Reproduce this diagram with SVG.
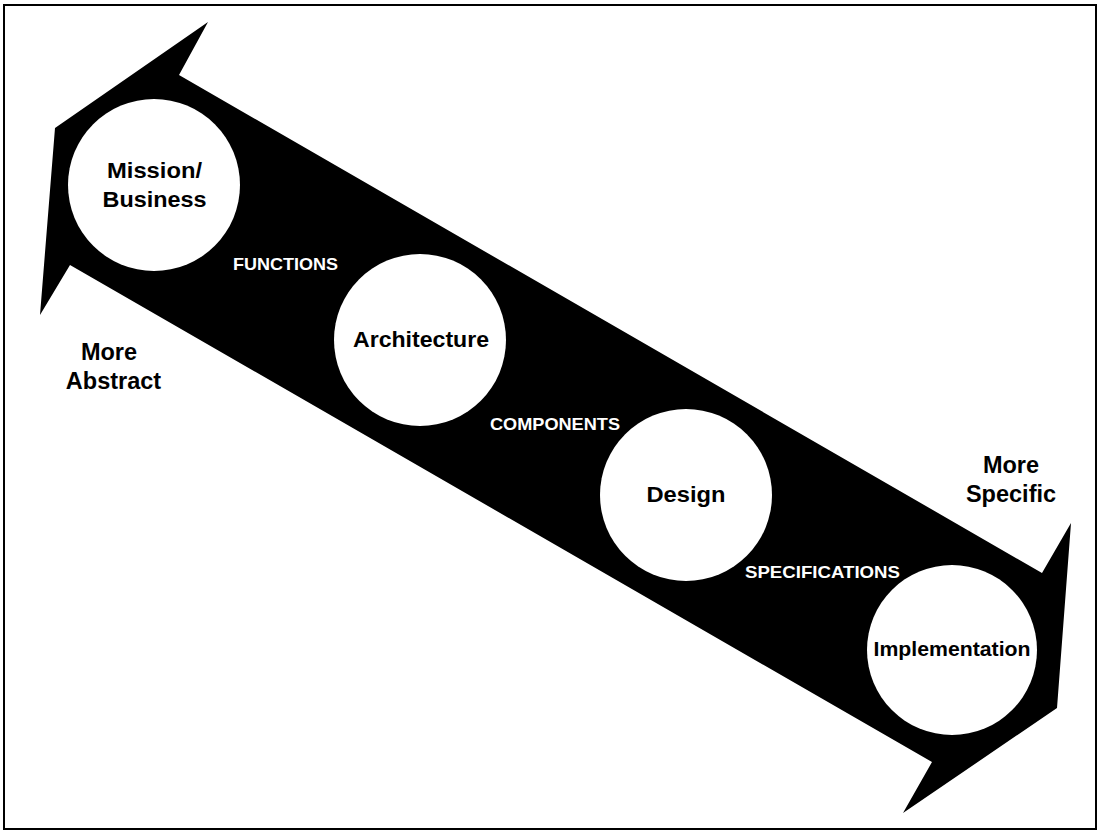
<svg xmlns="http://www.w3.org/2000/svg" width="1100" height="833" viewBox="0 0 1100 833">
<style>
.node circle{fill:#fff;stroke:none}
.t{font-family:"Liberation Sans",Arial,sans-serif;font-weight:bold;text-anchor:middle}
.nl{font-size:22.5px;fill:#000}
.cl{font-size:16.5px;fill:#fff}
.side{font-size:23.5px;fill:#000}
</style>
<rect x="4" y="5" width="1092" height="824" fill="#fff" stroke="#000" stroke-width="2"/>
<g id="connectors">
<polygon id="arrow" points="179,75 1042,573 1071,523 1057,708 903,813 932,762 70,265 40,315 55,128 208,22" fill="#000"/>
<text class="t cl" x="285.5" y="270" textLength="105" lengthAdjust="spacingAndGlyphs">FUNCTIONS</text>
<text class="t cl" x="555" y="430" textLength="130" lengthAdjust="spacingAndGlyphs">COMPONENTS</text>
<text class="t cl" x="822.5" y="578" textLength="155" lengthAdjust="spacingAndGlyphs">SPECIFICATIONS</text>
</g>
<g id="mission" class="node">
<circle cx="154" cy="185" r="86"/>
<text class="t nl" x="154.5" y="178" textLength="95" lengthAdjust="spacingAndGlyphs">Mission/</text>
<text class="t nl" x="154.5" y="207" textLength="104" lengthAdjust="spacingAndGlyphs">Business</text>
</g>
<g id="architecture" class="node">
<circle cx="420" cy="340" r="86"/>
<text class="t nl" x="421" y="347" textLength="136" lengthAdjust="spacingAndGlyphs">Architecture</text>
</g>
<g id="design" class="node">
<circle cx="686" cy="495" r="86"/>
<text class="t nl" x="686" y="502" textLength="79" lengthAdjust="spacingAndGlyphs">Design</text>
</g>
<g id="implementation" class="node">
<circle cx="952" cy="650" r="85"/>
<text class="t nl" x="952" y="656" style="font-size:20px" textLength="157" lengthAdjust="spacingAndGlyphs">Implementation</text>
</g>
<g id="abstract">
<text class="t side" x="109" y="360">More</text>
<text class="t side" x="113.5" y="389">Abstract</text>
</g>
<g id="specific">
<text class="t side" x="1011" y="473">More</text>
<text class="t side" x="1011" y="502">Specific</text>
</g>
</svg>
